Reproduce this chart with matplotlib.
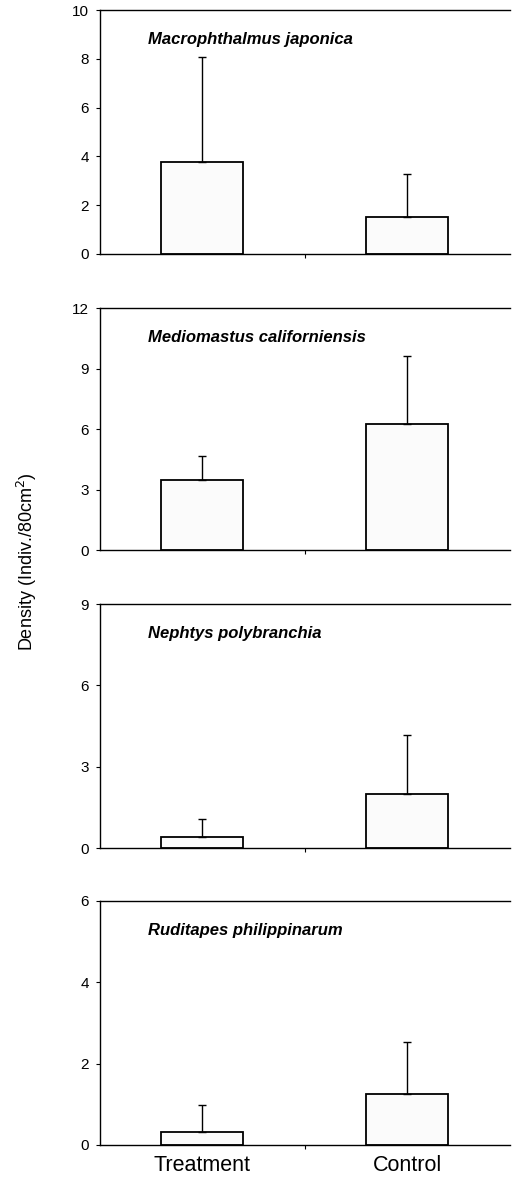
import matplotlib.pyplot as plt
import numpy as np

plt.rcParams['font.family'] = ['Liberation Sans', 'DejaVu Sans']

groups = ["Treatment", "Control"]
species = ["Macrophthalmus japonica", "Mediomastus californiensis",
           "Nephtys polybranchia", "Ruditapes philippinarum"]
means = [[3.76, 1.53], [3.47, 6.25], [0.42, 2.0], [0.33, 1.25]]
errs = [[4.33, 1.74], [1.21, 3.37], [0.66, 2.18], [0.66, 1.28]]
ymax = [10, 12, 9, 6]
yticks = [[0, 2, 4, 6, 8, 10], [0, 3, 6, 9, 12], [0, 3, 6, 9], [0, 2, 4, 6]]

fig = plt.figure(figsize=(5.12, 11.77), dpi=100)
# axes boxes (left, bottom, width, height) in figure fractions
boxes = [(0.1953, 0.7842, 0.80, 0.2073),
         (0.1953, 0.5327, 0.80, 0.2056),
         (0.1953, 0.2795, 0.80, 0.2073),
         (0.1953, 0.0272, 0.80, 0.2073)]

x = np.arange(len(groups))
for i in range(4):
    ax = fig.add_axes(boxes[i])
    ax.bar(x, means[i], width=0.4, color='#fbfbfb', edgecolor='black', linewidth=1.3,
           yerr=[np.zeros(2), errs[i]], capsize=3,
           error_kw=dict(elinewidth=1, capthick=1, ecolor='black'), zorder=2)
    ax.set_xlim(-0.5, 1.5)
    ax.set_ylim(0, ymax[i])
    ax.set_yticks(yticks[i])
    ax.spines['right'].set_visible(False)
    for s in ['top', 'bottom', 'left']:
        ax.spines[s].set_linewidth(1)
    ax.tick_params(axis='y', labelsize=11, length=3, width=0.8, pad=5)
    ax.set_xticks([0.5])
    ax.set_xticklabels([])
    ax.tick_params(axis='x', length=3, width=0.8)
    ax.text(0.117, 0.88, species[i], transform=ax.transAxes, fontsize=12,
            fontweight='bold', fontstyle='italic', va='center', ha='left')
    if i == 3:
        for j, g in enumerate(groups):
            ax.text(x[j], -0.04, g, transform=ax.get_xaxis_transform(),
                    ha='center', va='top', fontsize=15.5)

fig.text(0.053, 0.5225, "Density (Indiv./80cm$^2$)", rotation=90,
         ha='center', va='center', fontsize=13)

fig.savefig("out.png", dpi=100)
